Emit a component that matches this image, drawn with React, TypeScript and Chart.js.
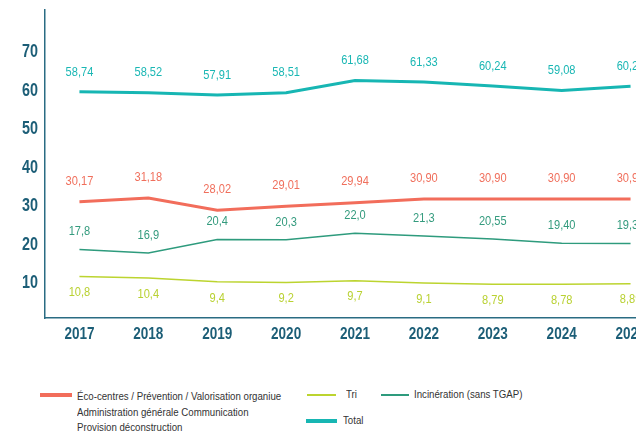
import React, { useEffect, useRef } from "react";
import { Chart, registerables } from "chart.js";

Chart.register(...registerables);

const years = ["2017", "2018", "2019", "2020", "2021", "2022", "2023", "2024", "2025"];
const totalValues = [58.74, 58.52, 57.91, 58.51, 61.68, 61.33, 60.24, 59.08, 60.21];
const totalDecimals = [2, 2, 2, 2, 2, 2, 2, 2, 2];
const ecoValues = [30.17, 31.18, 28.02, 29.01, 29.94, 30.9, 30.9, 30.9, 30.9];
const ecoDecimals = [2, 2, 2, 2, 2, 2, 2, 2, 2];
const incinerationValues = [17.8, 16.9, 20.4, 20.3, 22.0, 21.3, 20.55, 19.4, 19.35];
const incinerationDecimals = [1, 1, 1, 1, 1, 1, 2, 2, 2];
const triValues = [10.8, 10.4, 9.4, 9.2, 9.7, 9.1, 8.79, 8.78, 8.89];
const triDecimals = [1, 1, 1, 1, 1, 1, 2, 2, 2];
const yTickValues = [10, 20, 30, 40, 50, 60, 70];

const FONT = "'Liberation Sans', Arial, sans-serif";
const SQUEEZE = 0.82;
const AXIS = "#2a6c83";
const TICK = "#1c5e77";
const C_TOTAL = "#17b6b3";
const C_ECO = "#f26d5b";
const C_INC = "#2e9b7d";
const C_TRI = "#bcd42f";

const fmt = (v: number, d: number) => v.toFixed(d).replace(".", ",");

function squeezedText(ctx: CanvasRenderingContext2D, text: string, x: number, y: number, align: CanvasTextAlign) {
  ctx.save();
  ctx.translate(x, y);
  ctx.scale(SQUEEZE, 1);
  ctx.textAlign = align;
  ctx.textBaseline = "middle";
  ctx.fillText(text, 0, 0);
  ctx.restore();
}

const labelPlugin = {
  id: "valueLabels",
  afterDraw(chart: any) {
    const ctx = chart.ctx as CanvasRenderingContext2D;
    const xs = chart.scales.x;
    const ys = chart.scales.y;
    ctx.save();
    // value labels
    ctx.font = `13.5px ${FONT}`;
    chart.data.datasets.forEach((ds: any, i: number) => {
      const meta = chart.getDatasetMeta(i);
      ctx.fillStyle = ds.labelColor;
      meta.data.forEach((pt: any, j: number) => {
        squeezedText(ctx, fmt(ds.data[j], ds.decimals[j]), pt.x, pt.y + ds.labelOffset, "center");
      });
    });
    // x tick labels
    ctx.fillStyle = TICK;
    ctx.font = `bold 16.5px ${FONT}`;
    chart.data.labels.forEach((lab: string, j: number) => {
      squeezedText(ctx, lab, xs.getPixelForValue(j), xs.top + 16, "center");
    });
    // y tick labels
    ctx.font = `bold 17.5px ${FONT}`;
    yTickValues.forEach((v) => {
      squeezedText(ctx, String(v), ys.right - 7, ys.getPixelForValue(v) + 4, "right");
    });
    ctx.restore();
  },
};

export default function App() {
  const ref = useRef<HTMLCanvasElement>(null);
  useEffect(() => {
    if (!ref.current) return;
    const chart = new Chart(ref.current, {
      type: "line",
      data: {
        labels: years,
        datasets: [
          { data: totalValues, decimals: totalDecimals, borderColor: C_TOTAL, labelColor: "#1ab7b4", labelOffset: -20, borderWidth: 3 },
          { data: ecoValues, decimals: ecoDecimals, borderColor: C_ECO, labelColor: "#f06f5c", labelOffset: -21, borderWidth: 3 },
          { data: incinerationValues, decimals: incinerationDecimals, borderColor: C_INC, labelColor: "#349b7e", labelOffset: -18, borderWidth: 1.5 },
          { data: triValues, decimals: triDecimals, borderColor: C_TRI, labelColor: "#b9d132", labelOffset: 16, borderWidth: 1.5 },
        ].map((d: any) => ({ ...d, pointRadius: 0, tension: 0, fill: false })) as any,
      },
      options: {
        responsive: false,
        animation: false,
        layout: { padding: { top: 10, right: 5, left: 0, bottom: 0 } },
        plugins: { legend: { display: false }, tooltip: { enabled: false } },
        scales: {
          x: {
            type: "category",
            offset: true,
            grid: { display: false, drawTicks: false },
            border: { display: true, color: AXIS, width: 1.5 },
            ticks: { display: false },
            afterFit: (s: any) => { s.height = 44; },
          },
          y: {
            min: 0,
            max: 80,
            grid: { display: false, drawTicks: false },
            border: { display: true, color: AXIS, width: 1.5 },
            ticks: { display: false, stepSize: 10 },
            afterFit: (s: any) => { s.width = 45; },
          },
        },
      } as any,
      plugins: [labelPlugin],
    });
    return () => chart.destroy();
  }, []);

  const txt: React.CSSProperties = {
    position: "absolute",
    fontFamily: FONT,
    fontSize: 11.8,
    color: "#333333",
    lineHeight: "15.5px",
    whiteSpace: "nowrap",
    transform: `scaleX(${SQUEEZE})`,
    transformOrigin: "left top",
  };
  const sw = (left: number, top: number, width: number, h: number, c: string): React.CSSProperties => ({
    position: "absolute", left, top: top - h / 2, width, height: h, background: c,
  });

  return (
    <div style={{ position: "fixed", left: 0, top: 0, width: 636, height: 432, overflow: "hidden", background: "#fff" }}>
      <canvas ref={ref} width={670} height={362} style={{ position: "absolute", left: 0, top: 0, width: 670, height: 362 }} />
      <div style={sw(40, 395, 32, 3.5, C_ECO)} />
      <div style={{ ...txt, left: 77, top: 389 }}>
        Éco-centres / Prévention / Valorisation organiue<br />
        Administration générale Communication<br />
        Provision déconstruction
      </div>
      <div style={sw(307, 395, 29, 2, C_TRI)} />
      <div style={{ ...txt, left: 346, top: 387 }}>Tri</div>
      <div style={sw(381, 395, 28, 1.8, C_INC)} />
      <div style={{ ...txt, left: 414, top: 387 }}>Incinération (sans TGAP)</div>
      <div style={sw(306, 421, 31, 3.5, C_TOTAL)} />
      <div style={{ ...txt, left: 343, top: 413 }}>Total</div>
    </div>
  );
}
